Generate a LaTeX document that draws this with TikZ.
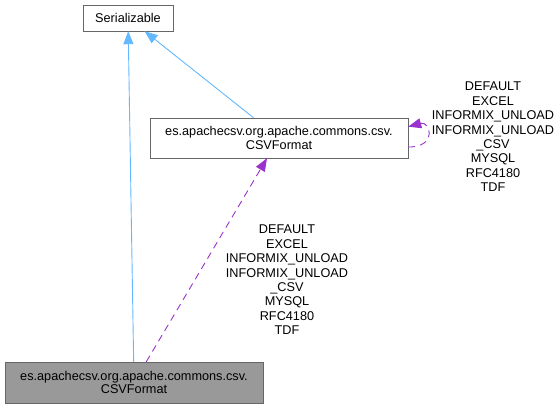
\documentclass[tikz,border=0pt]{standalone}
\usepackage{fontspec}
\setmainfont{Liberation Sans}
\usetikzlibrary{arrows.meta}
\definecolor{edgeblue}{HTML}{63B8FF}
\definecolor{edgepurple}{HTML}{9A32CD}
\definecolor{boxgray}{HTML}{666666}
\definecolor{curgray}{HTML}{999999}
\tikzset{
  classnode/.style = {rectangle, draw=boxgray, fill=white, align=center, inner sep=0pt, font=\fontsize{12.7}{13.5}\selectfont},
  curnode/.style = {classnode, fill=curgray},
  inherit/.style = {draw=edgeblue, line width=0.9pt, -{Triangle[length=13pt,width=10pt]}},
  usage/.style = {draw=edgepurple, line width=0.9pt, dash pattern=on 7pt off 5pt, -{Triangle[length=13pt,width=10pt]}},
  edgelabel/.style = {align=center, inner sep=0pt, font=\fontsize{12.7}{14.4}\selectfont}
}
\begin{document}
\begin{tikzpicture}[x=1pt, y=-1pt]
    \useasboundingbox (0,0) rectangle (559,408);
    \node[classnode, minimum width=90pt, minimum height=26pt] (ser) at (128,18) {Serializable};
    \node[classnode, minimum width=258pt, minimum height=40pt] (fmt) at (279,138)
        {es.apachecsv.org.apache.commons.csv.\\CSVFormat};
    \node[curnode, minimum width=258pt, minimum height=41pt] (cur) at (134,382.5)
        {es.apachecsv.org.apache.commons.csv.\\CSVFormat};
    \draw[inherit] (cur) -- (ser);
    \draw[inherit] (fmt) -- (ser);
    \draw[usage] (cur) -- (fmt);
    \draw[usage] (fmt.-4) .. controls +(30,0) and +(22,-6) .. (fmt.5);
    \node[edgelabel] (selflab) at (493,137)
        {DEFAULT\\EXCEL\\INFORMIX\_UNLOAD\\INFORMIX\_UNLOAD\\\_CSV\\MYSQL\\RFC4180\\TDF};
    \node[edgelabel] (uselab) at (287,280)
        {DEFAULT\\EXCEL\\INFORMIX\_UNLOAD\\INFORMIX\_UNLOAD\\\_CSV\\MYSQL\\RFC4180\\TDF};
\end{tikzpicture}
\end{document}
